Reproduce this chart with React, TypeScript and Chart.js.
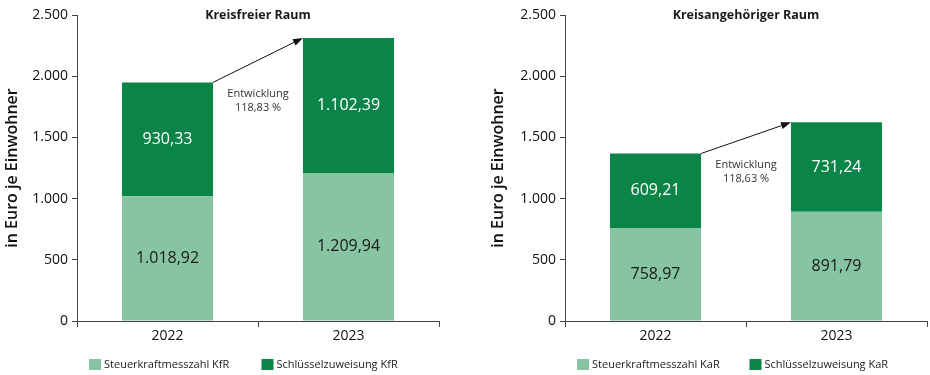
import React, { useEffect, useRef } from "react";
import { Chart, registerables } from "chart.js";

Chart.register(...registerables);

const categories = ["2022", "2023"];
const kfrSteuer = [1018.92, 1209.94];
const kfrSchl = [930.33, 1102.39];
const karSteuer = [758.97, 891.79];
const karSchl = [609.21, 731.24];
const yMax = 2500;
const yStep = 500;
const titleKfR = "Kreisfreier Raum";
const titleKaR = "Kreisangehöriger Raum";
const legendKfR = ["Steuerkraftmesszahl KfR", "Schlüsselzuweisung KfR"];
const legendKaR = ["Steuerkraftmesszahl KaR", "Schlüsselzuweisung KaR"];
const growthKfR = ["Entwicklung", "118,83 %"];
const growthKaR = ["Entwicklung", "118,63 %"];
const yTitle = "in Euro je Einwohner";

const LIGHT = "#86c4a2";
const DARK = "#0a8547";
const AXIS = "#444444";
const FONT = "'Open Sans', 'DejaVu Sans', sans-serif";

function groupThousands(s: string) {
  return s.replace(/\B(?=(\d{3})+(?!\d))/g, ".");
}
function fmtInt(v: number) {
  return groupThousands(String(Math.round(v)));
}
function fmtDec(v: number) {
  const [i, d] = v.toFixed(2).split(".");
  return groupThousands(i) + "," + d;
}

type Cfg = {
  steuer: number[];
  schl: number[];
  title: string;
  legend: string[];
  growth: string[];
  yWidth: number;
  padRight: number;
  titlePad: number;
};

function makePlugin(cfg: Cfg) {
  return {
    id: "custom",
    afterDatasetsDraw(chart: any) {
      const ctx = chart.ctx;
      const ca = chart.chartArea;
      ctx.save();
      // data labels
      const colors = ["#1a1a1a", "#ffffff"];
      [0, 1].forEach((di) => {
        const meta = chart.getDatasetMeta(di);
        const vals = chart.data.datasets[di].data as number[];
        meta.data.forEach((bar: any, i: number) => {
          const yc = (bar.y + bar.base) / 2;
          ctx.fillStyle = colors[di];
          ctx.font = `16px ${FONT}`;
          ctx.textAlign = "center";
          ctx.textBaseline = "middle";
          ctx.fillText(fmtDec(vals[i]), bar.x, yc);
        });
      });
      // arrow
      const top = chart.getDatasetMeta(1).data;
      const b0 = top[0] as any;
      const b1 = top[1] as any;
      const x0 = b0.x + b0.width / 2;
      const y0 = b0.y;
      const x1 = b1.x - b1.width / 2;
      const y1 = b1.y;
      const ang = Math.atan2(y1 - y0, x1 - x0);
      const hl = 10;
      const hw = 3.5;
      ctx.strokeStyle = "#111";
      ctx.fillStyle = "#111";
      ctx.lineWidth = 1;
      ctx.beginPath();
      ctx.moveTo(x0, y0);
      ctx.lineTo(x1 - hl * Math.cos(ang), y1 - hl * Math.sin(ang));
      ctx.stroke();
      ctx.beginPath();
      ctx.moveTo(x1, y1);
      ctx.lineTo(
        x1 - hl * Math.cos(ang) + hw * Math.sin(ang),
        y1 - hl * Math.sin(ang) - hw * Math.cos(ang)
      );
      ctx.lineTo(
        x1 - hl * Math.cos(ang) - hw * Math.sin(ang),
        y1 - hl * Math.sin(ang) + hw * Math.cos(ang)
      );
      ctx.closePath();
      ctx.fill();
      // growth text
      const mx = (ca.left + ca.right) / 2;
      ctx.fillStyle = "#333";
      ctx.font = `11px ${FONT}`;
      ctx.textAlign = "center";
      ctx.textBaseline = "middle";
      ctx.fillText(cfg.growth[0], mx, y0 + 11);
      ctx.fillText(cfg.growth[1], mx, y0 + 25);
      // title
      ctx.fillStyle = "#1a1a1a";
      ctx.font = `bold 12.5px ${FONT}`;
      ctx.fillText(cfg.title, mx, 15);
      // legend
      const lx = [ca.left + 12, ca.left + 184.5];
      const fills = [LIGHT, DARK];
      ctx.font = `11px ${FONT}`;
      ctx.textAlign = "left";
      cfg.legend.forEach((t, i) => {
        ctx.fillStyle = fills[i];
        ctx.fillRect(lx[i], 359, 12, 11);
        ctx.fillStyle = "#222";
        ctx.fillText(t, lx[i] + 15, 365);
      });
      ctx.restore();
    },
  };
}

function BarPanel({ cfg }: { cfg: Cfg }) {
  const ref = useRef<HTMLCanvasElement | null>(null);
  useEffect(() => {
    if (!ref.current) return;
    const chart = new Chart(ref.current, {
      type: "bar",
      data: {
        labels: categories,
        datasets: [
          { label: cfg.legend[0], data: cfg.steuer, backgroundColor: LIGHT, borderWidth: 0 },
          { label: cfg.legend[1], data: cfg.schl, backgroundColor: DARK, borderWidth: 0 },
        ],
      },
      options: {
        responsive: false,
        animation: false,
        events: [],
        layout: { padding: { top: 15, right: cfg.padRight, left: 0, bottom: 0 } },
        datasets: { bar: { categoryPercentage: 1, barPercentage: 0.503 } },
        plugins: { legend: { display: false }, title: { display: false }, tooltip: { enabled: false } },
        scales: {
          x: {
            stacked: true,
            grid: { display: true, drawOnChartArea: false, offset: true, tickLength: 6, color: AXIS },
            border: { color: AXIS },
            ticks: { font: { family: FONT, size: 14 }, color: "#111", padding: 1 },
            afterFit: (s: any) => {
              s.height = 54;
            },
          },
          y: {
            stacked: true,
            min: 0,
            max: yMax,
            grid: { drawOnChartArea: false, tickLength: 5, color: AXIS },
            border: { color: AXIS },
            ticks: {
              stepSize: yStep,
              padding: 4,
              font: { family: FONT, size: 14 },
              color: "#111",
              callback: (v: any) => fmtInt(Number(v)),
            },
            title: {
              display: true,
              text: yTitle,
              color: "#111",
              font: { family: FONT, size: 16, weight: "600" },
              padding: { top: cfg.titlePad, bottom: 0 },
            },
            afterFit: (s: any) => {
              s.width = cfg.yWidth;
            },
          },
        },
      },
      plugins: [makePlugin(cfg) as any],
    });
    return () => chart.destroy();
  }, [cfg]);
  return <canvas ref={ref} width={465} height={375} style={{ display: "block" }} />;
}

const cfgKfR: Cfg = {
  steuer: kfrSteuer,
  schl: kfrSchl,
  title: titleKfR,
  legend: legendKfR,
  growth: growthKfR,
  yWidth: 77,
  padRight: 26,
  titlePad: 3,
};
const cfgKaR: Cfg = {
  steuer: karSteuer,
  schl: karSchl,
  title: titleKaR,
  legend: legendKaR,
  growth: growthKaR,
  yWidth: 100,
  padRight: 3,
  titlePad: 24,
};

export default function App() {
  return (
    <div
      style={{
        position: "fixed",
        left: 0,
        top: 0,
        width: 930,
        height: 375,
        background: "#fff",
        display: "flex",
      }}
    >
      <BarPanel cfg={cfgKfR} />
      <BarPanel cfg={cfgKaR} />
    </div>
  );
}
